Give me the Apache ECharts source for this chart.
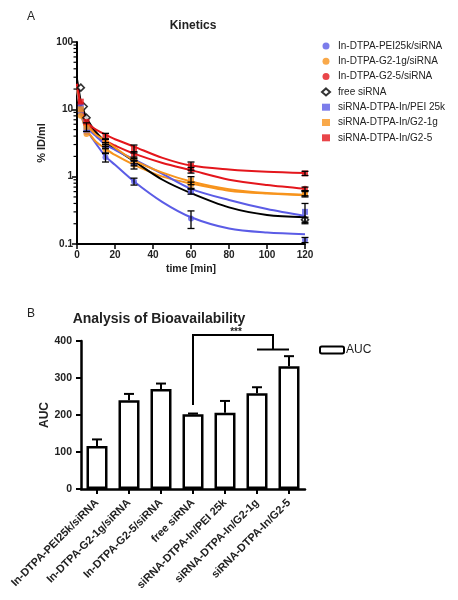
<!DOCTYPE html>
<html><head><meta charset="utf-8">
<script src="https://cdn.jsdelivr.net/npm/echarts@6/dist/echarts.min.js"></script>
<style>html,body{margin:0;padding:0;background:#fff}#c{width:458px;height:600px}</style>
</head><body><div id="c"></div>
<script>
// ---------- Panel A: kinetics ----------
const curveTimes = [0, 1, 2, 3.5, 5, 7.5, 10, 15, 20, 30, 45, 60, 80, 100, 120];
const curvePEIcomplex = [20, 13, 9, 6.2, 4.9, 3.9, 3.1, 2.0, 1.5, 0.85, 0.42, 0.25, 0.17, 0.148, 0.14];
const curveG21complex = [20, 13, 9, 6.3, 5.0, 4.0, 3.3, 2.6, 2.1, 1.5, 1.0, 0.79, 0.62, 0.56, 0.53];
const curveG25complex = [24, 16, 11, 7.8, 6.3, 5.1, 4.3, 3.4, 2.9, 2.2, 1.6, 1.25, 0.9, 0.75, 0.66];
const curveFree       = [28, 19, 13, 9.5, 7.5, 5.7, 4.6, 3.3, 2.6, 1.7, 0.9, 0.57, 0.35, 0.27, 0.25];
const curvePEIlabel   = [22, 14, 10, 7.0, 5.5, 4.6, 4.0, 3.0, 2.5, 1.8, 1.1, 0.66, 0.45, 0.33, 0.26];
const curveG21label   = [22, 15, 10.5, 7.5, 6.0, 4.9, 4.2, 3.4, 2.7, 1.75, 1.15, 0.85, 0.65, 0.57, 0.54];
const curveG25label   = [24, 16, 11, 8.0, 6.5, 5.6, 5.0, 4.2, 3.6, 2.8, 1.9, 1.46, 1.28, 1.18, 1.13];

const pointTimes = [2, 5, 15, 30, 60, 120];
const ptPEIcomplex = [9, 4.6, 1.95, 0.85, 0.24, 0.115];
const erPEIcomplex = [0, 0, 0.3, 0.1, 0.07, 0.01];
const ptG21complex = [8, 4.3, 2.5, 1.5, 0.75, 0.55];
const erG21complex = [0, 0, 0.3, 0.2, 0.08, 0.05];
const ptG25complex = [12, 6, 3.3, 2.1, 1.25, 0.66];
const erG25complex = [0, 0, 0.3, 0.25, 0.12, 0.04];
const ptPEIlabel = [11, 5.0, 2.9, 1.6, 0.6, 0.3];
const erPEIlabel = [0, 0, 0.3, 0.15, 0.05, 0.1];
const ptG21label = [10, 5.5, 3.2, 1.75, 0.88, 0.57];
const erG21label = [0, 0.8, 0.4, 0.2, 0.12, 0.05];
const ptG25label = [13, 6.5, 4.0, 2.6, 1.45, 1.12];
const erG25label = [0, 0, 0.4, 0.35, 0.2, 0.08];
const freeTimes = [2, 3.5, 5, 120];
const ptFree = [21, 11, 7.5, 0.23];
const erFree = [0, 0, 0, 0.02];

const minorTickValues = [0.2,0.3,0.4,0.5,0.6,0.7,0.8,0.9,2,3,4,5,6,7,8,9,20,30,40,50,60,70,80,90];

const names = ['In-DTPA-PEI25k/siRNA','In-DTPA-G2-1g/siRNA','In-DTPA-G2-5/siRNA','free siRNA',
               'siRNA-DTPA-In/PEI 25k','siRNA-DTPA-In/G2-1g','siRNA-DTPA-In/G2-5'];

// ---------- Panel B: AUC ----------
const aucCategories = ['In-DTPA-PEI25k/siRNA','In-DTPA-G2-1g/siRNA','In-DTPA-G2-5/siRNA','free siRNA',
                       'siRNA-DTPA-In/PEI 25k','siRNA-DTPA-In/G2-1g','siRNA-DTPA-In/G2-5'];
const aucValues = [116, 240, 270, 202, 206, 259, 332];
const aucErrors = [18, 17, 15, 2, 32, 16, 27];
const sigBracket = {from: 3, toA: 5, toB: 6, fromBottom: 227, top: 416, pairLevel: 377, label: '***'};

const BLUE = '#5b5ce6', ORANGE = '#f7941d', RED = '#e4161c', BLACK = '#000';

function pairs(xs, ys){ return xs.map((x,i)=>[x, ys[i]]); }
function errs(xs, ys, es){ return xs.map((x,i)=>[x, ys[i]-es[i], ys[i]+es[i]]).filter((e,i)=>es[i]>0); }

const chart = echarts.init(document.getElementById('c'), null, {renderer:'canvas'});

const curveSeries = [
  [curvePEIcomplex, BLUE], [curveG21complex, ORANGE], [curveG25complex, RED], [curveFree, BLACK],
  [curvePEIlabel, BLUE], [curveG21label, ORANGE], [curveG25label, RED]
].map(([d,c],i)=>({
  type:'line', name:'curve'+i, xAxisIndex:0, yAxisIndex:0, data: pairs(curveTimes, d),
  smooth:0.3, showSymbol:false, symbol:'none', lineStyle:{color:c, width:2}, itemStyle:{color:c},
  silent:true, z:2
}));

const pointDefs = [
  [names[0], ptPEIcomplex, erPEIcomplex, pointTimes, BLUE, 'circle', 6],
  [names[1], ptG21complex, erG21complex, pointTimes, ORANGE, 'circle', 6],
  [names[2], ptG25complex, erG25complex, pointTimes, RED, 'circle', 6],
  [names[3], ptFree, erFree, freeTimes, BLACK, 'diamond', 7],
  [names[4], ptPEIlabel, erPEIlabel, pointTimes, BLUE, 'rect', 6],
  [names[5], ptG21label, erG21label, pointTimes, ORANGE, 'rect', 6],
  [names[6], ptG25label, erG25label, pointTimes, RED, 'rect', 6]
];

const scatterSeries = pointDefs.map(([n, ys, es, xs, c, sym, sz])=>({
  type:'scatter', name:n, xAxisIndex:0, yAxisIndex:0, data: pairs(xs, ys),
  symbol:sym, symbolSize:sz,
  itemStyle: sym==='diamond' ? {color:'#fff', borderColor:'#000', borderWidth:1.6} : {color:c},
  z:4
}));

const errData = [];
pointDefs.forEach(([n, ys, es, xs])=>{ errs(xs, ys, es).forEach(e=>errData.push(e)); });

const errorSeriesA = {
  type:'custom', name:'errA', xAxisIndex:0, yAxisIndex:0, data: errData, z:5, silent:true,
  encode:{x:0, y:[1,2]},
  renderItem(params, api){
    const lo = api.coord([api.value(0), api.value(1)]);
    const hi = api.coord([api.value(0), api.value(2)]);
    const w = 3.5, st = {stroke:'#000', lineWidth:1.3};
    return {type:'group', children:[
      {type:'line', shape:{x1:lo[0], y1:lo[1], x2:hi[0], y2:hi[1]}, style:st},
      {type:'line', shape:{x1:lo[0]-w, y1:lo[1], x2:lo[0]+w, y2:lo[1]}, style:st},
      {type:'line', shape:{x1:hi[0]-w, y1:hi[1], x2:hi[0]+w, y2:hi[1]}, style:st}
    ]};
  }
};

const minorTickSeries = {
  type:'custom', name:'minorTicks', xAxisIndex:0, yAxisIndex:0, silent:true, clip:false,
  data: minorTickValues.map(v=>[0, v]), encode:{x:0, y:1}, z:6,
  renderItem(params, api){
    const p = api.coord([0, api.value(1)]);
    return {type:'line', shape:{x1:p[0]-3.5, y1:p[1], x2:p[0], y2:p[1]}, style:{stroke:'#000', lineWidth:1.2}};
  }
};

const barSeries = {
  type:'bar', name:'AUC', xAxisIndex:1, yAxisIndex:1, data: aucValues, barWidth:21,
  itemStyle:{color:'#fff', borderColor:'#000', borderWidth:2.5}, z:2, silent:true
};

const errorSeriesB = {
  type:'custom', name:'errB', xAxisIndex:1, yAxisIndex:1, silent:true, z:3,
  data: aucValues.map((v,i)=>[i, v, v+aucErrors[i]]), encode:{x:0, y:[1,2]},
  renderItem(params, api){
    const lo = api.coord([api.value(0), api.value(1)]);
    const hi = api.coord([api.value(0), api.value(2)]);
    const w = 5, st = {stroke:'#000', lineWidth:2};
    return {type:'group', children:[
      {type:'line', shape:{x1:lo[0], y1:lo[1], x2:hi[0], y2:hi[1]}, style:st},
      {type:'line', shape:{x1:hi[0]-w, y1:hi[1], x2:hi[0]+w, y2:hi[1]}, style:st}
    ]};
  }
};

const sigSeries = {
  type:'custom', name:'sig', xAxisIndex:1, yAxisIndex:1, silent:true, z:3, clip:false,
  data:[[sigBracket.from, sigBracket.top]], encode:{x:0, y:1},
  renderItem(params, api){
    const a0 = api.coord([sigBracket.from, sigBracket.fromBottom]);
    const a1 = api.coord([sigBracket.from, sigBracket.top]);
    const bA = api.coord([sigBracket.toA, sigBracket.pairLevel]);
    const bB = api.coord([sigBracket.toB, sigBracket.pairLevel]);
    const mx = (bA[0]+bB[0])/2;
    const st = {stroke:'#000', lineWidth:2};
    return {type:'group', children:[
      {type:'polyline', shape:{points:[[a0[0],a0[1]],[a1[0],a1[1]],[mx,a1[1]],[mx,bA[1]]]}, style:Object.assign({fill:null}, st)},
      {type:'line', shape:{x1:bA[0], y1:bA[1], x2:bB[0], y2:bB[1]}, style:st},
      {type:'text', style:{text:sigBracket.label, x:(a1[0]+mx)/2 + 3, y:a1[1]+2, align:'center', verticalAlign:'bottom',
        font:'bold 10px Arial, Liberation Sans, sans-serif', fill:'#222'}}
    ]};
  }
};

const FONT = 'Arial, "Liberation Sans", sans-serif';

chart.setOption({
  animation:false,
  backgroundColor:'#fff',
  textStyle:{fontFamily:FONT},
  title:[
    {text:'A', left:22, top:6, textStyle:{fontSize:12, fontWeight:'normal', color:'#222', fontFamily:FONT}},
    {text:'Kinetics', left:188, top:15, textAlign:'center', textStyle:{fontSize:12, fontWeight:'bold', color:'#222', fontFamily:FONT}},
    {text:'B', left:22, top:303, textStyle:{fontSize:12, fontWeight:'normal', color:'#222', fontFamily:FONT}},
    {text:'Analysis of Bioavailability', left:154, top:307, textAlign:'center', textStyle:{fontSize:14, fontWeight:'bold', color:'#222', fontFamily:FONT}}
  ],
  legend:[
    {data:names, orient:'vertical', left:321, top:40, itemWidth:8, itemHeight:7, itemGap:3.3, padding:0,
     textStyle:{fontSize:10, color:'#222', fontFamily:FONT, lineHeight:12, padding:[0,0,0,3]}, selectedMode:false},
    {data:['AUC'], left:319, top:344, itemWidth:24, itemHeight:7, padding:0, selectedMode:false,
     textStyle:{fontSize:12, color:'#222', fontFamily:FONT, padding:[0,0,0,-3]}}
  ],
  grid:[
    {left:77, right:153, top:42, bottom:356},
    {left:81, right:153, top:341, bottom:111}
  ],
  xAxis:[
    {type:'value', gridIndex:0, min:0, max:120, interval:20,
     name:'time [min]', nameLocation:'middle', nameGap:20,
     nameTextStyle:{fontSize:10.5, fontWeight:'bold', color:'#222', fontFamily:FONT},
     axisLine:{lineStyle:{color:'#000', width:2}},
     axisTick:{show:true, inside:false, length:5, lineStyle:{color:'#000', width:1.5}},
     axisLabel:{fontSize:10, fontWeight:'bold', color:'#222', margin:6, fontFamily:FONT},
     splitLine:{show:false}},
    {type:'category', gridIndex:1, data:aucCategories,
     axisLine:{lineStyle:{color:'#000', width:2.5}},
     axisTick:{show:true, alignWithLabel:true, length:5, lineStyle:{color:'#000', width:2}},
     axisLabel:{rotate:45, fontSize:11, fontWeight:'bold', color:'#222', margin:12, interval:0, fontFamily:FONT},
     splitLine:{show:false}}
  ],
  yAxis:[
    {type:'log', gridIndex:0, min:0.1, max:100, logBase:10,
     name:'% ID/ml', nameLocation:'middle', nameGap:30,
     nameTextStyle:{fontSize:11, fontWeight:'bold', color:'#222', fontFamily:FONT},
     axisLine:{show:true, lineStyle:{color:'#000', width:2}},
     axisTick:{show:true, length:5, lineStyle:{color:'#000', width:1.5}},
     axisLabel:{fontSize:10, fontWeight:'bold', color:'#222', margin:4, fontFamily:FONT},
     splitLine:{show:false}},
    {type:'value', gridIndex:1, min:0, max:400, interval:100,
     name:'AUC', nameLocation:'middle', nameGap:27,
     nameTextStyle:{fontSize:12, fontWeight:'bold', color:'#222', fontFamily:FONT},
     axisLine:{show:true, lineStyle:{color:'#000', width:2.5}},
     axisTick:{show:true, length:5, lineStyle:{color:'#000', width:2}},
     axisLabel:{fontSize:10.5, fontWeight:'bold', color:'#222', margin:9, fontFamily:FONT},
     splitLine:{show:false}}
  ],
  series:[...curveSeries, ...scatterSeries, errorSeriesA, minorTickSeries, barSeries, errorSeriesB, sigSeries]
});
</script>
</body></html>
